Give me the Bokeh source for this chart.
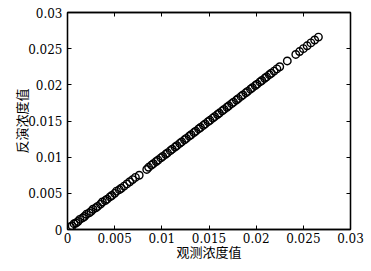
from bokeh.plotting import figure
from bokeh.models import Range1d, LinearAxis, FixedTicker, CustomJSTickFormatter
from bokeh.embed import file_html
from bokeh.resources import INLINE

observed = [0.0003, 0.0005, 0.0007, 0.0009, 0.0011, 0.0013, 0.0016, 0.0018, 0.0020, 0.0023,
            0.0025, 0.0027, 0.0030, 0.0032, 0.0035, 0.0037, 0.0040, 0.0042, 0.0045, 0.0047,
            0.0050, 0.0052, 0.0055, 0.0057, 0.0060, 0.0063, 0.0066, 0.0069, 0.0072, 0.0076,
            0.0084, 0.0086, 0.0089, 0.0091, 0.0094, 0.0096, 0.0099, 0.0101, 0.0104, 0.0106,
            0.0109, 0.0111, 0.0114, 0.0116, 0.0119, 0.0121, 0.0124, 0.0126, 0.0129, 0.0131,
            0.0134, 0.0136, 0.0139, 0.0141, 0.0144, 0.0146, 0.0149, 0.0151, 0.0154, 0.0156,
            0.0159, 0.0161, 0.0164, 0.0166, 0.0169, 0.0171, 0.0174, 0.0176, 0.0179, 0.0181,
            0.0184, 0.0186, 0.0189, 0.0191, 0.0194, 0.0196, 0.0199, 0.0201, 0.0204, 0.0206,
            0.0209, 0.0211, 0.0214, 0.0216, 0.0219, 0.0222, 0.0225,
            0.0233,
            0.0242, 0.0246, 0.0250, 0.0254, 0.0258, 0.0262, 0.0266]
inverted = [0.0004, 0.0005, 0.0008, 0.0009, 0.0011, 0.0014, 0.0016, 0.0018, 0.0021, 0.0023,
            0.0025, 0.0028, 0.0030, 0.0032, 0.0035, 0.0038, 0.0040, 0.0042, 0.0045, 0.0047,
            0.0050, 0.0053, 0.0055, 0.0057, 0.0060, 0.0063, 0.0066, 0.0069, 0.0072, 0.0075,
            0.0083, 0.0086, 0.0089, 0.0091, 0.0094, 0.0096, 0.0099, 0.0101, 0.0104, 0.0106,
            0.0109, 0.0111, 0.0114, 0.0116, 0.0119, 0.0121, 0.0124, 0.0126, 0.0129, 0.0131,
            0.0134, 0.0136, 0.0139, 0.0141, 0.0144, 0.0146, 0.0149, 0.0151, 0.0154, 0.0156,
            0.0159, 0.0161, 0.0164, 0.0166, 0.0169, 0.0171, 0.0174, 0.0176, 0.0179, 0.0181,
            0.0184, 0.0186, 0.0189, 0.0191, 0.0194, 0.0196, 0.0199, 0.0201, 0.0204, 0.0206,
            0.0209, 0.0211, 0.0214, 0.0216, 0.0219, 0.0222, 0.0225,
            0.0233,
            0.0242, 0.0246, 0.0250, 0.0254, 0.0258, 0.0262, 0.0266]

tick_values = [0, 0.005, 0.01, 0.015, 0.02, 0.025, 0.03]
tick_labels = ["0", "0.005", "0.01", "0.015", "0.02", "0.025", "0.03"]
x_title = "观测浓度值"
y_title = "反演浓度值"

p = figure(width=369, height=269, output_backend="svg", toolbar_location=None,
           x_range=Range1d(0, 0.03), y_range=Range1d(0, 0.03),
           x_axis_label=x_title, y_axis_label=y_title,
           min_border_left=67, min_border_right=19, min_border_top=12, min_border_bottom=40)
p.background_fill_color = "white"
p.border_fill_color = "white"
p.grid.visible = False
p.outline_line_color = "black"
p.outline_line_width = 1.3

fmt = CustomJSTickFormatter(args=dict(vals=tick_values, labs=tick_labels), code="""
for (let i = 0; i < vals.length; i++) { if (Math.abs(tick - vals[i]) < 1e-9) return labs[i]; }
return '';
""")

for ax in (p.xaxis[0], p.yaxis[0]):
    ax.ticker = FixedTicker(ticks=tick_values)
    ax.formatter = fmt
    ax.major_tick_in = 4
    ax.major_tick_out = 0
    ax.minor_tick_line_color = None
    ax.axis_line_color = "black"
    ax.axis_line_width = 1.3
    ax.major_label_text_font = "DejaVu Serif"
    ax.major_label_text_font_size = "12px"
    ax.major_label_text_color = "black"
    ax.axis_label_text_font = "Noto Sans CJK SC"
    ax.axis_label_text_font_size = "13px"
    ax.axis_label_text_font_style = "normal"
    ax.axis_label_text_color = "black"
    ax.major_label_standoff = 3

p.xaxis[0].axis_label_standoff = -4
p.yaxis[0].major_label_standoff = 5
p.yaxis[0].axis_label_standoff = -6

for loc in ("above", "right"):
    ax = LinearAxis(ticker=FixedTicker(ticks=tick_values), major_label_text_font_size="0px",
                    major_tick_in=4, major_tick_out=0, minor_tick_line_color=None,
                    axis_line_color="black", axis_line_width=1.3)
    ax.major_label_text_color = None
    p.add_layout(ax, loc)

p.scatter(observed, inverted, marker="circle", size=7.5, fill_color=None,
          line_color="black", line_width=1.4)

open("out.html", "w").write(file_html(p, INLINE))
